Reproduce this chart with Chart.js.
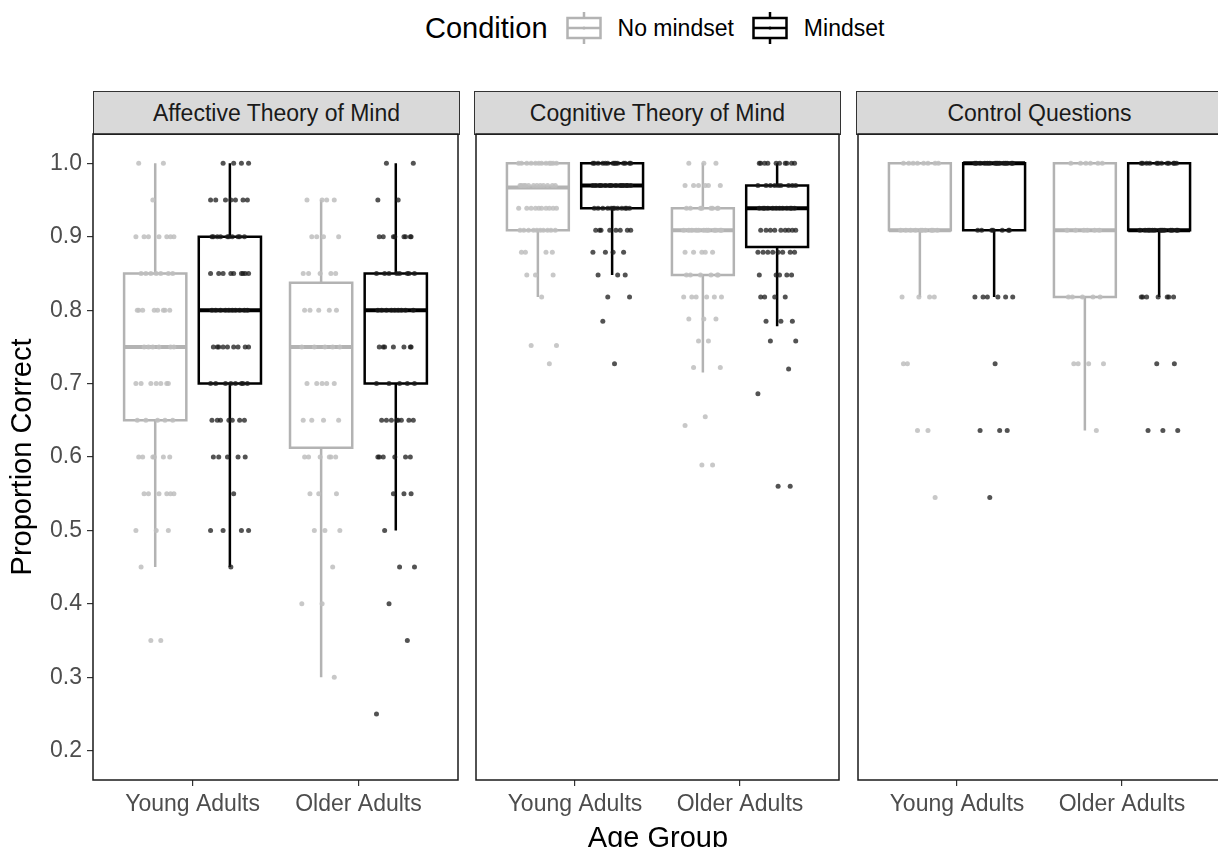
<!DOCTYPE html>
<html>
<head>
<meta charset="utf-8">
<script src="https://cdn.jsdelivr.net/npm/chart.js@4.4.1/dist/chart.umd.min.js"></script>
<style>
    body {
        margin: 0;
        width: 1218px;
        height: 847px;
        overflow: hidden;
        position: relative;
        background: #fff;
        font-family: "Liberation Sans", Arial, sans-serif;
    }
    .strip {
        position: absolute;
        top: 91px;
        height: 44px;
        width: 367px;
        box-sizing: border-box;
        border: 1.5px solid #333;
        background: #d9d9d9;
        color: #1a1a1a;
        font-size: 23px;
        display: flex;
        align-items: center;
        justify-content: center;
    }
    .panel {
        position: absolute;
        top: 130px;
        height: 717px;
    }
    #legend {
        position: absolute;
        left: 425px;
        top: 11px;
        height: 34px;
        display: flex;
        align-items: center;
        color: #000;
        white-space: nowrap;
    }
    #xtitle {
        position: absolute;
        top: 823px;
        left: 508px;
        width: 300px;
        text-align: center;
        font-size: 29px;
        line-height: 29px;
    }
</style>
</head>
<body>
<div id="legend"></div>
<div id="strips"></div>
<div class="panel" id="panel0" style="left:0px;width:462px"><canvas id="chart0"></canvas></div>
<div class="panel" id="panel1" style="left:472px;width:371px"><canvas id="chart1"></canvas></div>
<div class="panel" id="panel2" style="left:854px;width:371px"><canvas id="chart2"></canvas></div>
<div id="xtitle">Age Group</div>

<script>
// 分面、年龄组、条件
const facets = ['Affective Theory of Mind', 'Cognitive Theory of Mind', 'Control Questions'];
const ageGroups = ['Young Adults', 'Older Adults'];
const conditions = ['No mindset', 'Mindset'];
const yTicks = [0.2, 0.3, 0.4, 0.5, 0.6, 0.7, 0.8, 0.9, 1.0];

// 箱线图统计 [下须, Q1, 中位数, Q3, 上须]
// 顺序: Young/No mindset, Young/Mindset, Older/No mindset, Older/Mindset
const affectiveBoxes = [
    [0.45, 0.65, 0.75, 0.85, 1.0],
    [0.45, 0.70, 0.80, 0.90, 1.0],
    [0.30, 0.6125, 0.75, 0.8375, 0.95],
    [0.50, 0.70, 0.80, 0.85, 1.0]
];
const cognitiveBoxes = [
    [0.818, 0.909, 0.967, 1.0, 1.0],
    [0.848, 0.939, 0.970, 1.0, 1.0],
    [0.715, 0.848, 0.909, 0.939, 1.0],
    [0.778, 0.886, 0.939, 0.970, 1.0]
];
const controlBoxes = [
    [0.818, 0.909, 0.909, 1.0, 1.0],
    [0.818, 0.909, 1.0, 1.0, 1.0],
    [0.636, 0.818, 0.909, 1.0, 1.0],
    [0.818, 0.909, 0.909, 1.0, 1.0]
];

// 散点 [取值, 个数]
const affectivePoints = [
    [[1.0, 2], [0.95, 1], [0.9, 7], [0.85, 7], [0.8, 8], [0.75, 6], [0.7, 7], [0.65, 5], [0.6, 6], [0.55, 6], [0.5, 3], [0.45, 1], [0.35, 2]],
    [[1.0, 4], [0.95, 7], [0.9, 10], [0.85, 9], [0.8, 10], [0.75, 9], [0.7, 8], [0.65, 7], [0.6, 5], [0.55, 1], [0.5, 4], [0.45, 1]],
    [[0.95, 4], [0.9, 4], [0.85, 5], [0.8, 5], [0.75, 5], [0.7, 5], [0.65, 4], [0.6, 6], [0.55, 3], [0.5, 3], [0.45, 1], [0.4, 2], [0.3, 1]],
    [[1.0, 2], [0.95, 2], [0.9, 8], [0.85, 8], [0.8, 9], [0.75, 7], [0.7, 5], [0.65, 8], [0.6, 6], [0.55, 3], [0.5, 1], [0.45, 2], [0.4, 1], [0.35, 1], [0.25, 1]]
];
const cognitivePoints = [
    [[1.0, 12], [0.97, 12], [0.939, 10], [0.909, 10], [0.879, 4], [0.848, 3], [0.818, 1], [0.752, 2], [0.727, 1]],
    [[1.0, 14], [0.97, 14], [0.939, 12], [0.909, 8], [0.879, 4], [0.848, 3], [0.818, 2], [0.785, 1], [0.727, 1]],
    [[1.0, 3], [0.97, 6], [0.939, 8], [0.909, 12], [0.879, 5], [0.848, 6], [0.818, 6], [0.788, 3], [0.758, 2], [0.722, 2], [0.655, 1], [0.643, 1], [0.589, 2]],
    [[1.0, 10], [0.97, 9], [0.939, 12], [0.909, 9], [0.879, 8], [0.848, 5], [0.818, 4], [0.785, 3], [0.758, 2], [0.72, 1], [0.686, 1], [0.56, 2]]
];
const controlPoints = [
    [[1.0, 8], [0.909, 10], [0.818, 4], [0.727, 2], [0.636, 2], [0.545, 1]],
    [[1.0, 15], [0.909, 7], [0.818, 6], [0.727, 1], [0.636, 3], [0.545, 1]],
    [[1.0, 6], [0.909, 6], [0.818, 5], [0.727, 4], [0.636, 1]],
    [[1.0, 12], [0.909, 14], [0.818, 7], [0.727, 2], [0.636, 3]]
];

// 样式和布局
const panelBoxes = [affectiveBoxes, cognitiveBoxes, controlBoxes];
const panelPoints = [affectivePoints, cognitivePoints, controlPoints];
const panelLeft = [93, 474, 856];
const FONT = '"Liberation Sans", Arial, sans-serif';
const LINE_COLORS = ['#b3b3b3', '#000000'];
const POINT_COLORS = ['rgba(190,190,190,0.85)', 'rgba(25,25,25,0.75)'];
const DODGE = [-0.225, 0.225];
const BOX_HALF = 0.1875;
const JITTER_WIDTH = 0.12;
const JITTER = [-0.83, 0.41, -0.12, 0.77, -0.56, 0.19, 0.94, -0.34, 0.58, -0.97, 0.05, 0.66,
                -0.71, 0.28, -0.22, 0.88, -0.47, 0.12, -0.9, 0.49, -0.05, 0.73, -0.63];

/**
 * 构建图例
 */
function buildLegend() {
    const legend = document.getElementById('legend');
    let html = '<span style="font-size:29px">Condition</span>';
    conditions.forEach((name, i) => {
        const c = LINE_COLORS[i];
        html += '<svg width="36" height="34" style="margin-left:' + (i === 0 ? 18 : 18) + 'px">' +
            '<line x1="18" y1="1" x2="18" y2="33" stroke="' + c + '" stroke-width="2.5"/>' +
            '<rect x="1.5" y="7" width="33" height="20" fill="#fff" stroke="' + c + '" stroke-width="2.5"/>' +
            '<line x1="1.5" y1="17" x2="34.5" y2="17" stroke="' + c + '" stroke-width="2.5"/>' +
            '<circle cx="18" cy="17" r="1.6" fill="' + c + '"/></svg>' +
            '<span style="font-size:23px;margin-left:16px">' + name + '</span>';
    });
    legend.innerHTML = html;
}

/**
 * 构建分面标题条
 */
function buildStrips() {
    const strips = document.getElementById('strips');
    facets.forEach((name, i) => {
        const div = document.createElement('div');
        div.className = 'strip';
        div.style.left = panelLeft[i] + 'px';
        div.textContent = name;
        strips.appendChild(div);
    });
}

/**
 * 构建一个分面的数据集
 */
function buildDatasets(boxes, points) {
    const datasets = [];
    boxes.forEach((b, i) => {
        const cond = i % 2;
        const center = Math.floor(i / 2) + 1 + DODGE[cond];
        const [lo, q1, med, q3, hi] = b;
        const l = center - BOX_HALF;
        const r = center + BOX_HALF;

        // 箱体和须线
        datasets.push({
            data: [
                {x: center, y: q1}, {x: r, y: q1}, {x: r, y: q3}, {x: l, y: q3}, {x: l, y: q1}, {x: center, y: q1},
                {x: center, y: null},
                {x: center, y: q3}, {x: center, y: hi},
                {x: center, y: null},
                {x: center, y: lo}, {x: center, y: q1}
            ],
            showLine: true,
            borderColor: LINE_COLORS[cond],
            borderWidth: 2.5,
            pointRadius: 0,
            spanGaps: false,
            order: 2
        });

        // 中位数
        datasets.push({
            data: [{x: l, y: med}, {x: r, y: med}],
            showLine: true,
            borderColor: LINE_COLORS[cond],
            borderWidth: 4,
            borderCapStyle: 'butt',
            pointRadius: 0,
            order: 1
        });

        // 抖动散点
        const pts = [];
        let k = i * 5;
        points[i].forEach(([v, n]) => {
            for (let j = 0; j < n; j++) {
                pts.push({x: center + JITTER[k % JITTER.length] * JITTER_WIDTH, y: v});
                k++;
            }
        });
        datasets.push({
            data: pts,
            backgroundColor: POINT_COLORS[cond],
            borderWidth: 0,
            pointRadius: 2.5,
            order: 0
        });
    });
    return datasets;
}

// 面板边框
const panelBorder = {
    id: 'panelBorder',
    afterDatasetsDraw(chart) {
        const a = chart.chartArea;
        const ctx = chart.ctx;
        ctx.save();
        ctx.strokeStyle = '#1a1a1a';
        ctx.lineWidth = 1.5;
        ctx.strokeRect(a.left, a.top, a.right - a.left, a.bottom - a.top);
        ctx.restore();
    }
};

/**
 * 创建分面图表
 */
function createPanel(idx) {
    const first = idx === 0;
    new Chart(document.getElementById('chart' + idx), {
        type: 'scatter',
        data: {datasets: buildDatasets(panelBoxes[idx], panelPoints[idx])},
        options: {
            responsive: true,
            maintainAspectRatio: false,
            animation: false,
            events: [],
            layout: {padding: {left: first ? 0 : 2, right: 2, top: 4, bottom: 0}},
            plugins: {legend: {display: false}, tooltip: {enabled: false}},
            scales: {
                x: {
                    type: 'linear',
                    min: 0.4,
                    max: 2.6,
                    afterBuildTicks: s => { s.ticks = ageGroups.map((_, i) => ({value: i + 1})); },
                    afterFit: s => { s.height = 67; },
                    ticks: {
                        autoSkip: false,
                        maxRotation: 0,
                        padding: 5,
                        color: '#4d4d4d',
                        font: {family: FONT, size: 23},
                        callback: v => ageGroups[v - 1]
                    },
                    grid: {drawOnChartArea: false, drawTicks: true, tickLength: 6, color: '#333', lineWidth: 1.2},
                    border: {display: false}
                },
                y: {
                    display: first,
                    min: 0.16,
                    max: 1.04,
                    afterBuildTicks: s => { s.ticks = yTicks.map(v => ({value: v})); },
                    afterFit: s => {
                        if (!first) return;
                        s.width = 93;
                        s.paddingTop = 0;
                        s.paddingBottom = 0;
                    },
                    ticks: {
                        padding: 5,
                        color: '#4d4d4d',
                        font: {family: FONT, size: 23},
                        callback: v => v.toFixed(1)
                    },
                    grid: {drawOnChartArea: false, drawTicks: true, tickLength: 6, color: '#333', lineWidth: 1.2},
                    border: {display: false},
                    title: {
                        display: true,
                        text: 'Proportion Correct',
                        color: '#000',
                        font: {family: FONT, size: 29},
                        padding: {top: 6, bottom: 0}
                    }
                }
            }
        },
        plugins: [panelBorder]
    });
}

buildLegend();
buildStrips();
facets.forEach((_, i) => createPanel(i));
</script>
</body>
</html>
